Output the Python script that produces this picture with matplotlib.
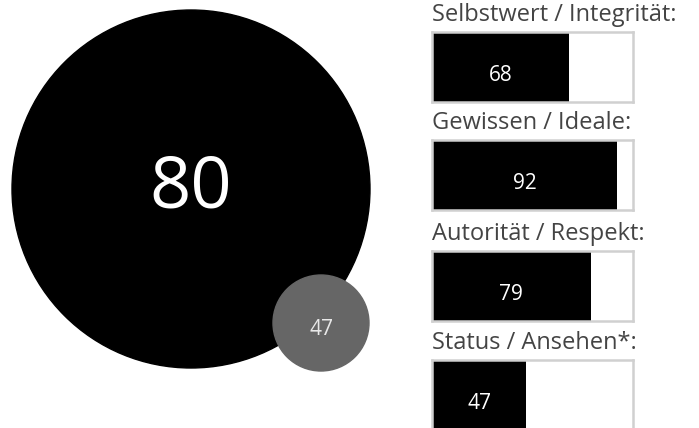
import matplotlib
matplotlib.use("Agg")
import matplotlib.pyplot as plt
from matplotlib.patches import Circle

# Werte
main_score = 80
status_score = 47
labels = ["Selbstwert / Integrität:", "Gewissen / Ideale:", "Autorität / Respekt:", "Status / Ansehen*:"]
values = [68, 92, 79, 47]

plt.rcParams['font.family'] = ['Open Sans', 'DejaVu Sans']

W, H = 699, 428
fig = plt.figure(figsize=(W / 100, H / 100), dpi=100)

# Kreise (Pixelkoordinaten)
ax = fig.add_axes([0, 0, 1, 1])
ax.set_xlim(0, W)
ax.set_ylim(H, 0)
ax.set_aspect('equal')
ax.axis('off')

ax.add_patch(Circle((191, 189), 179, color='black'))
ax.text(191, 207, str(main_score), color='white', fontsize=52,
        ha='center', va='baseline')
ax.add_patch(Circle((321, 323), 48, color='#666666'))
ax.text(321, 335, str(status_score), color='#e8e8e8', fontsize=15,
        ha='center', va='baseline')

# Balken
box_left, box_width, box_height = 432, 201, 70
box_tops = [32, 140, 251, 360]
for label, val, top in zip(labels, values, box_tops):
    bax = fig.add_axes([box_left / W, (H - top - box_height) / H,
                        box_width / W, box_height / H])
    bax.barh(0, val, height=1, color='black', align='center')
    bax.set_xlim(0, 100)
    bax.set_ylim(-0.5, 0.5)
    bax.set_xticks([])
    bax.set_yticks([])
    for s in bax.spines.values():
        s.set_color('#d0d0d0')
        s.set_linewidth(1.8)
    bax.text(val / 2, 0.5 - 49 / box_height, str(val), color='white',
             fontsize=15, ha='center', va='baseline')
    fig.text(box_left / W, (H - top + 11) / H, label, color='#444444',
             fontsize=17, ha='left', va='baseline')

fig.savefig('out.png', dpi=100)
